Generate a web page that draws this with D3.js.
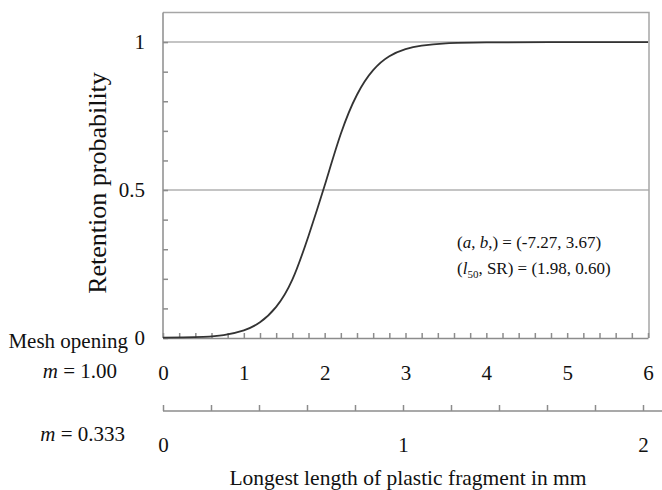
<!DOCTYPE html>
<html>
<head>
<meta charset="utf-8">
<script src="https://cdn.jsdelivr.net/npm/d3@7"></script>
<style>
  body { margin: 0; background: #fff; }
  svg { display: block; font-family: "Liberation Serif", "Times New Roman", serif; }
  .axis path, .axis line { stroke: #8c8c8c; stroke-width: 1.5; }
  .axis text { fill: #111; font-size: 21px; font-family: "Liberation Serif", serif; }
</style>
</head>
<body>
<svg id="chart" width="662" height="490"></svg>
<script>
// curve (length in mm, retention probability)
const lengths = [0, 0.25, 0.5, 0.75, 1.0, 1.2, 1.4, 1.6, 1.8, 2.0, 2.2, 2.4, 2.6, 2.8, 3.0, 3.2, 3.5, 4.0, 5.0, 6.0];
const retention = [0.001, 0.002, 0.004, 0.01, 0.026, 0.053, 0.105, 0.197, 0.345, 0.515, 0.69, 0.822, 0.905, 0.952, 0.976, 0.988, 0.996, 0.999, 1.0, 1.0];

// tick labels
const xTickLabels = [0, 1, 2, 3, 4, 5, 6];          // m = 1.00
const x2TickLabels = [0, 1, 2];                      // m = 0.333
const yTickLabels = [0, 0.5, 1];
const gridValues = [0.5, 1];

const svg = d3.select('#chart');
const W = 662;

const x = d3.scaleLinear().domain([0, 6]).range([163, 648]);
const x2 = d3.scaleLinear().domain([0, 2]).range([163, 643]);
const y = d3.scaleLinear().domain([0, 1.1]).range([338, 12.5]);

// gridlines
svg.append('g').selectAll('line')
  .data(gridValues)
  .join('line')
  .attr('x1', x(0)).attr('x2', 649)
  .attr('y1', d => y(d)).attr('y2', d => y(d))
  .attr('stroke', '#c4c4c4')
  .attr('stroke-width', 2);

// frame (top + right)
svg.append('path')
  .attr('d', `M${x(0)},${y(1.1)}H649V${y(0)}`)
  .attr('fill', 'none')
  .attr('stroke', '#a6a6a6')
  .attr('stroke-width', 1.5);

// minor ticks on bottom axis, pointing in
svg.append('g')
  .attr('class', 'axis')
  .attr('transform', `translate(0,${y(0)})`)
  .call(d3.axisBottom(x).tickValues(d3.range(0, 6.01, 0.2)).tickSize(-5).tickSizeOuter(0).tickFormat(''));

// bottom labels m = 1.00
svg.append('g')
  .attr('class', 'axis')
  .attr('transform', `translate(0,${y(0)})`)
  .call(d3.axisBottom(x).tickValues(xTickLabels).tickSize(0).tickPadding(27).tickFormat(d3.format('d')))
  .call(g => g.select('.domain').remove());

// left axis minor ticks
svg.append('g')
  .attr('class', 'axis')
  .attr('transform', `translate(${x(0)},0)`)
  .call(d3.axisLeft(y).tickValues(d3.range(0, 1.01, 0.1)).tickSize(-5).tickSizeOuter(0).tickFormat(''))
  .call(g => g.select('.domain').attr('d', `M0,${y(0)}V${y(1.1)}`));

// left labels
svg.append('g')
  .attr('class', 'axis')
  .attr('transform', `translate(${x(0)},0)`)
  .call(d3.axisLeft(y).tickValues(yTickLabels).tickSize(0).tickPadding(18).tickFormat(d => d === 0.5 ? '0.5' : d))
  .call(g => g.select('.domain').remove());

// second scale (m = 0.333)
const ax2 = svg.append('g')
  .attr('class', 'axis')
  .attr('transform', 'translate(0,411)')
  .call(d3.axisTop(x2).tickValues(d3.range(0, 2.01, 0.2)).tickSize(6).tickSizeOuter(0).tickFormat(''));
ax2.select('.domain').attr('d', `M${x2(0)},0H${W}`);

svg.append('g')
  .attr('class', 'axis')
  .attr('transform', 'translate(0,411)')
  .call(d3.axisBottom(x2).tickValues(x2TickLabels).tickSize(0).tickPadding(26).tickFormat(d3.format('d')))
  .call(g => g.select('.domain').remove());

// the curve
const pts = lengths.map((l, i) => [l, retention[i]]);
const line = d3.line()
  .x(d => x(d[0]))
  .y(d => y(d[1]))
  .curve(d3.curveNatural);

svg.append('path')
  .datum(pts)
  .attr('fill', 'none')
  .attr('stroke', '#333')
  .attr('stroke-width', 1.8)
  .attr('d', line);

// left side labels
const lab = svg.append('g').attr('font-size', 21).attr('fill', '#111');
lab.append('text').attr('x', 128).attr('y', 348).attr('text-anchor', 'end').text('Mesh opening');

const m1 = lab.append('text').attr('x', 117).attr('y', 378).attr('text-anchor', 'end');
m1.append('tspan').attr('font-style', 'italic').text('m');
m1.append('tspan').text(' = 1.00');

const m2 = lab.append('text').attr('x', 125).attr('y', 441).attr('text-anchor', 'end');
m2.append('tspan').attr('font-style', 'italic').text('m');
m2.append('tspan').text(' = 0.333');

// axis titles
svg.append('text')
  .attr('x', 408).attr('y', 485)
  .attr('text-anchor', 'middle')
  .attr('font-size', 21.5)
  .attr('fill', '#111')
  .text('Longest length of plastic fragment in mm');

svg.append('text')
  .attr('transform', 'translate(106,183) rotate(-90)')
  .attr('text-anchor', 'middle')
  .attr('font-size', 26)
  .attr('fill', '#111')
  .text('Retention probability');

// parameter annotation
const ann = svg.append('g').attr('font-size', 17).attr('fill', '#111');
const t1 = ann.append('text').attr('x', 457).attr('y', 248);
t1.append('tspan').text('(');
t1.append('tspan').attr('font-style', 'italic').text('a');
t1.append('tspan').text(', ');
t1.append('tspan').attr('font-style', 'italic').text('b');
t1.append('tspan').text(',) = (-7.27, 3.67)');

const t2 = ann.append('text').attr('x', 457).attr('y', 274);
t2.append('tspan').text('(');
t2.append('tspan').attr('font-style', 'italic').text('l');
t2.append('tspan').attr('font-size', 11).attr('dy', 4).text('50');
t2.append('tspan').attr('dy', -4).text(', SR) = (1.98, 0.60)');
</script>
</body>
</html>
